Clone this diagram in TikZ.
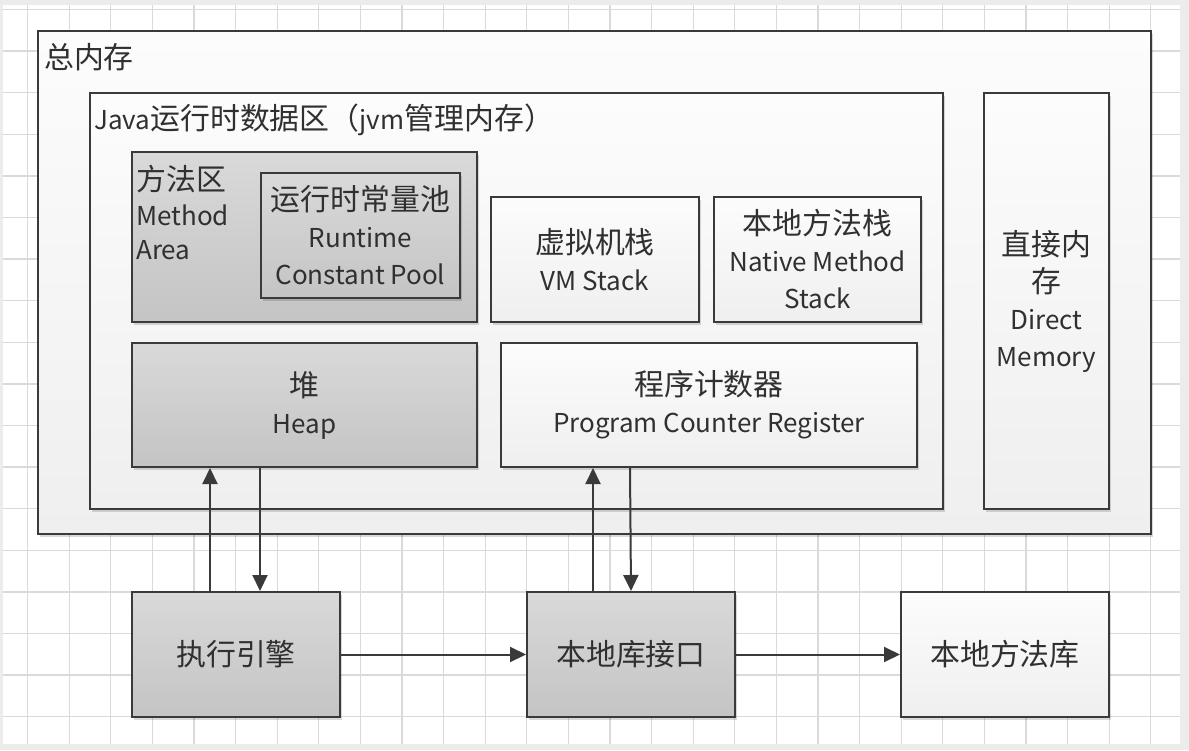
\documentclass[tikz,border=0pt]{standalone}
\usepackage{fontspec}
\setmainfont{Noto Sans CJK SC}
\newfontfamily\cjk[Scale=1.15]{Noto Sans CJK SC}
\usetikzlibrary{arrows.meta,shadows}
\definecolor{bg}{HTML}{ECECEB}
\definecolor{gridc}{HTML}{DADADA}
\definecolor{edge}{HTML}{3A3A3A}
\definecolor{grayT}{HTML}{D9D9D9}
\definecolor{grayB}{HTML}{C4C4C4}
\definecolor{whiteT}{HTML}{FCFCFC}
\definecolor{whiteB}{HTML}{EFEFEF}
\definecolor{txt}{HTML}{303030}
\begin{document}
\begin{tikzpicture}[x=1pt,y=-1pt,
  box/.style={draw=edge, line width=2pt, inner sep=0pt, align=center, text=txt,
    font=\fontsize{26}{37}\selectfont,
    drop shadow={shadow xshift=2pt, shadow yshift=-3pt, opacity=.15, fill=black}},
  graybox/.style={box, top color=grayT, bottom color=grayB},
  whitebox/.style={box, top color=whiteT, bottom color=whiteB},
  lbl/.style={inner sep=0pt, text=txt, font=\fontsize{26}{34.5}\selectfont},
  arr/.style={draw=edge, line width=2pt, -{Triangle[length=16pt,width=15pt]}}
]
\useasboundingbox (0,0) rectangle (1189,750);
\fill[bg] (0,0) rectangle (1189,750);
\fill[white] (3,5) rectangle (1180,744);
\foreach \i in {0,...,27} \draw[gridc, line width=1.3pt] ({27.6+41.6*\i},5) -- ({27.6+41.6*\i},744);
\foreach \j in {0,...,17} \draw[gridc, line width=1.3pt] (3,{9.5+41.6*\j}) -- (1180,{9.5+41.6*\j});

% containers
\node[whitebox, minimum width=1113pt, minimum height=503pt] (total) at (594.5,282.5) {};
\node[lbl, anchor=west] (totallbl) at (44,57) {\cjk 总内存};
\node[whitebox, minimum width=853pt, minimum height=416pt] (jvm) at (516.5,301) {};
\node[lbl, anchor=west] (jvmlbl) at (94,120) {Java{\cjk 运行时数据区（}jvm{\cjk 管理内存）}};

% runtime areas
\node[graybox, minimum width=345pt, minimum height=170pt] (method) at (304.5,237) {};
\node[lbl, anchor=north west, align=left] (methodlbl) at (136,165) {{\cjk 方法区}\\Method\\Area};
\node[graybox, minimum width=199pt, minimum height=125pt] (pool) at (360.5,235.5) {{\cjk 运行时常量池}\\Runtime\\Constant Pool};
\node[whitebox, minimum width=208pt, minimum height=125pt] (vms) at (595,259.5) {{\cjk 虚拟机栈}\\VM Stack};
\node[whitebox, minimum width=207pt, minimum height=125pt] (nms) at (817.5,259.5) {{\cjk 本地方法栈}\\Native Method\\Stack};
\node[graybox, minimum width=345pt, minimum height=124pt] (heap) at (304.5,405) {{\cjk 堆}\\Heap};
\node[whitebox, minimum width=416pt, minimum height=124pt] (pc) at (709,405) {{\cjk 程序计数器}\\Program Counter Register};
\node[whitebox, minimum width=125pt, minimum height=416pt] (direct) at (1046.5,301) {{\cjk 直接内}\\{\cjk 存}\\Direct\\Memory};

% bottom row
\node[graybox, minimum width=208pt, minimum height=125pt] (exec) at (236,654.5) {\cjk 执行引擎};
\node[graybox, minimum width=208pt, minimum height=125pt] (nif) at (631,654.5) {\cjk 本地库接口};
\node[whitebox, minimum width=208pt, minimum height=125pt] (nlib) at (1005,654.5) {\cjk 本地方法库};

% connectors
\draw[arr] ([xshift=79pt]exec.north west) -- ([xshift=79pt]heap.south west);
\draw[arr] ([xshift=129pt]heap.south west) -- ([xshift=129pt]exec.north west);
\draw[arr] ([xshift=67pt]nif.north west) -- ([xshift=93pt]pc.south west);
\draw[arr] ([xshift=130pt]pc.south west) -- (nif.north);
\draw[arr] (exec.east) -- (nif.west);
\draw[arr] (nif.east) -- (nlib.west);
\end{tikzpicture}
\end{document}
